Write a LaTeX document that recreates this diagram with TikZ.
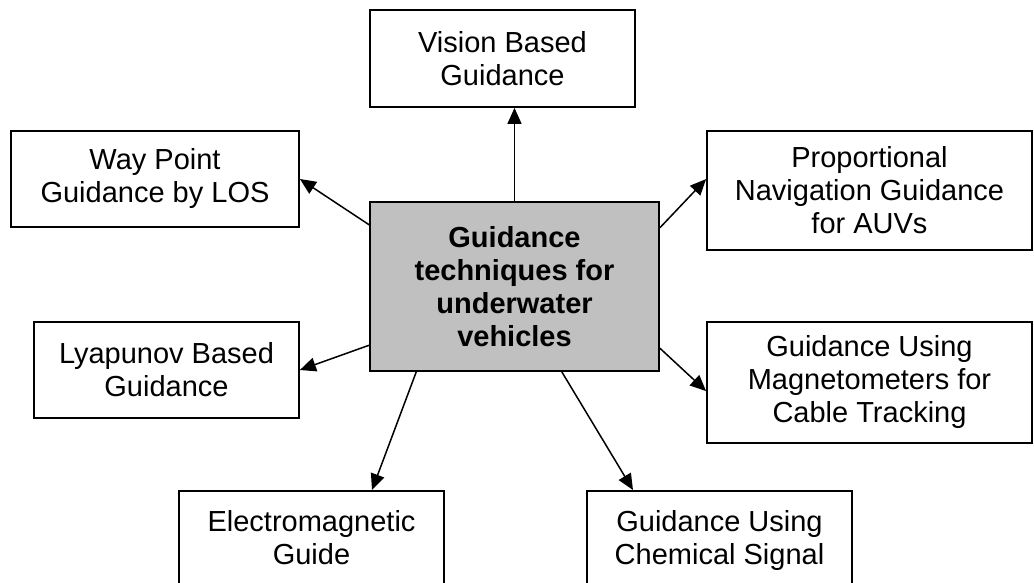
\documentclass[tikz,border=0pt]{standalone}
\usepackage{fontspec}
\setmainfont{Liberation Sans}
\usetikzlibrary{arrows.meta,calc}
\definecolor{hubgray}{HTML}{C0C0C0}

\begin{document}
\begin{tikzpicture}[x=0.5pt,y=-0.5pt,
    box/.style={draw,line width=0.9pt,align=center,inner sep=0pt,
        font=\fontsize{14.5}{16.5}\selectfont},
    hub/.style={box,fill=hubgray,font=\fontsize{14.5}{16.5}\selectfont\bfseries},
    arr/.style={-{Triangle[length=8pt,width=7pt]},line width=0.75pt}]
    \useasboundingbox (0,0) rectangle (1034,583);
    \clip (0,0) rectangle (1034,583);
    % centre box
    \node[hub,minimum width=144.5pt,minimum height=84.5pt] (hub) at (514.5,286.5)
        {Guidance\\techniques for\\underwater\\vehicles};
    % surrounding boxes
    \node[box,minimum width=132.5pt,minimum height=48.5pt] (vis) at (502.5,58.5) {Vision Based\\Guidance};
    \node[box,minimum width=144pt,minimum height=48pt] (wpt) at (155,179) {Way Point\\Guidance by LOS};
    \node[box,minimum width=162.5pt,minimum height=59.5pt] (pro) at (869.5,190.5) {Proportional\\Navigation Guidance\\for AUVs};
    \node[box,minimum width=132.5pt,minimum height=48pt] (lya) at (166.5,370) {Lyapunov Based\\Guidance};
    \node[box,minimum width=162.5pt,minimum height=60.5pt] (mag) at (869.5,382.5) {Guidance Using\\Magnetometers for\\Cable Tracking};
    \node[box,minimum width=132.5pt,anchor=north,inner ysep=9.8pt,text depth=40pt] (emg) at (311.5,490) {Electromagnetic\\Guide};
    \node[box,minimum width=132.5pt,anchor=north,inner ysep=9.8pt,text depth=40pt] (chm) at (719.5,490) {Guidance Using\\Chemical Signal};
    % arrows
    \draw[arr] (hub.north) -- (hub.north |- vis.south);
    \draw[arr] (hub.157.6) -- (wpt.east);
    \draw[arr] (hub.22.4) -- (pro.176.3);
    \draw[arr] (hub.202.7) -- (lya.east);
    \draw[arr] (hub.337.1) -- (mag.183.7);
    \draw[arr] (hub.221.2) -- ($(emg.north)+(60.5,0)$);
    \draw[arr] (hub.299.9) -- ($(chm.north)+(-86.5,0)$);
\end{tikzpicture}
\end{document}
